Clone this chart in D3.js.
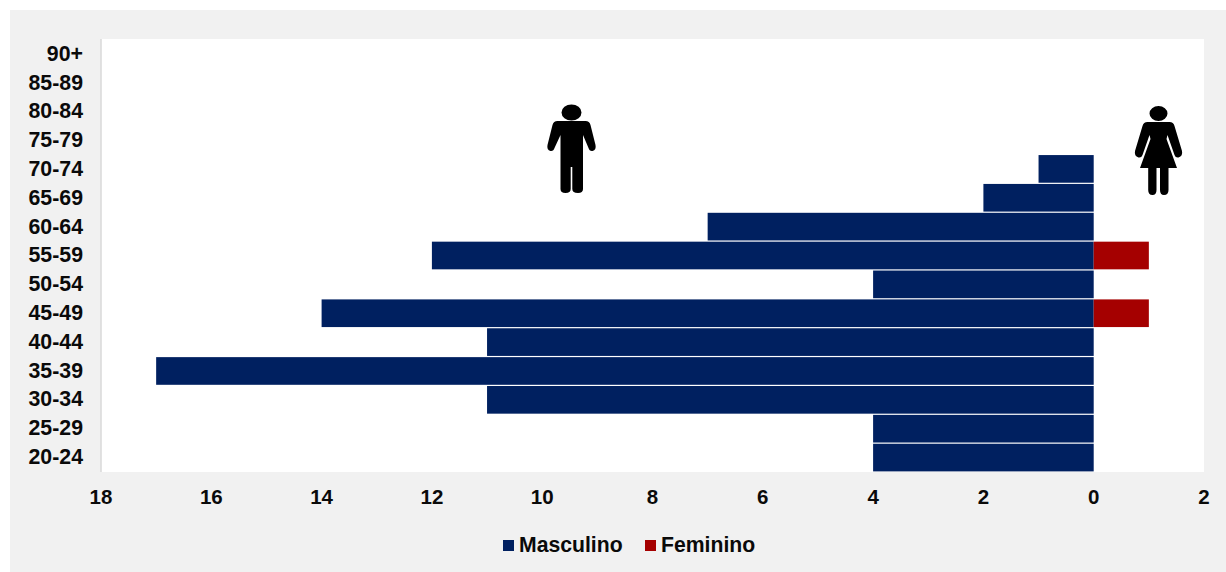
<!DOCTYPE html>
<html><head><meta charset="utf-8">
<script src="https://cdn.jsdelivr.net/npm/d3@7"></script>
<style>html,body{margin:0;padding:0;background:#fff}svg{display:block}text{font-family:"Liberation Sans",Arial,sans-serif;font-weight:700;fill:#0a0a0a}</style>
</head><body><svg id="c" width="1226" height="572"></svg>
<script>
const ageGroups=["90+","85-89","80-84","75-79","70-74","65-69","60-64","55-59","50-54","45-49","40-44","35-39","30-34","25-29","20-24"];
const masculino=[0,0,0,0,1,2,7,12,4,14,11,17,11,4,4];
const feminino=[0,0,0,0,0,0,0,1,0,1,0,0,0,0,0];
const xTicks=[18,16,14,12,10,8,6,4,2,0,2];
const seriesNames=["Masculino","Feminino"];
const colors=["#002060","#A50000"];

const svg=d3.select("#c");
const L=101,R=1204,T=39,B=472;
svg.append("rect").attr("x",10).attr("y",10).attr("width",1216).attr("height",562).attr("fill","#f1f1f1");
svg.append("rect").attr("x",L).attr("y",T).attr("width",R-L).attr("height",B-T).attr("fill","#fff");

const x=d3.scaleLinear().domain([-18,2]).range([L,R]);
const y=d3.scaleBand().domain(ageGroups).range([T,B]).padding(0);

svg.append("line").attr("x1",L).attr("x2",L).attr("y1",T).attr("y2",B).attr("stroke","#d9d9d9").attr("stroke-width",1.5);

const bar=(vals,color,sign)=>svg.append("g").selectAll("rect").data(ageGroups.map((a,i)=>({a,v:vals[i]})).filter(d=>d.v>0)).join("rect")
 .attr("x",d=>sign<0?x(-d.v):x(0)).attr("width",d=>Math.abs(x(d.v)-x(0)))
 .attr("y",d=>y(d.a)+0.6).attr("height",y.bandwidth()-1.2).attr("fill",color);
bar(masculino,colors[0],-1);
bar(feminino,colors[1],1);

svg.append("g").selectAll("text").data(ageGroups).join("text")
 .attr("x",L-18).attr("y",(d,i)=>y(d)+y.bandwidth()/2-(i/14)).attr("dy","0.35em").attr("text-anchor","end").attr("font-size",21.3).text(d=>d);

svg.append("g").selectAll("text").data(xTicks).join("text")
 .attr("x",(d,i)=>x(i===xTicks.length-1?d:-d)).attr("y",504).attr("text-anchor","middle").attr("font-size",20.5).text(d=>d);

const lg=[{n:seriesNames[0],c:colors[0],sx:503,tx:519},{n:seriesNames[1],c:colors[1],sx:645,tx:661}];
const g=svg.append("g");
g.selectAll("rect").data(lg).join("rect").attr("x",d=>d.sx).attr("y",540).attr("width",11).attr("height",11).attr("fill",d=>d.c);
g.selectAll("text").data(lg).join("text").attr("x",d=>d.tx).attr("y",552).attr("font-size",21.2).text(d=>d.n);

// pictograms: local coordinates, origin at the shoulder line on the body axis
const man="M-10,-8.500 a10,8 0 1,0 20,0 a10,8 0 1,0 -20,0 Z M-14,0 H14 Q18,0 19,4 L24,24 Q25,29 21,30 Q18,30.500 17,27 L11.500,14 V68 Q11.500,72 6.500,72 Q0.800,72 0.800,68 V46 H-0.800 V68 Q-0.800,72 -6,72 Q-11,72 -11,68 V14 L-17,27 Q-18,30.500 -21,30 Q-25,29 -24,24 L-19,4 Q-18,0 -14,0 Z";
const woman="M-9,-8.500 a9,7.500 0 1,0 18,0 a9,7.500 0 1,0 -18,0 Z M-11,0 H11 Q15,0 16,4 L23.500,29 Q24.500,34 20,35.500 Q17,36 16,33 L9,13 L8,17 L18.500,46 H10 V68 Q10,73 5.500,73 Q1.500,73 1.500,68 V46 H-2 V68 Q-2,73 -6,73 Q-10.300,73 -10.300,68 V46 H-18.500 L-8,17 L-9,13 L-16,33 Q-17,36 -20,35.500 Q-24.500,34 -23.500,29 L-16,4 Q-15,0 -11,0 Z";
svg.append("path").attr("d",man).attr("transform","translate(571.5,121)").attr("fill","#000");
svg.append("path").attr("d",woman).attr("transform","translate(1158.5,122)").attr("fill","#000");
</script></body></html>
